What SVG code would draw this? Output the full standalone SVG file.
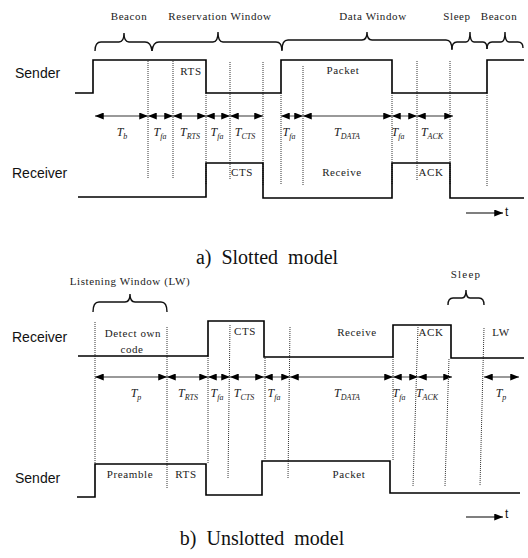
<svg xmlns="http://www.w3.org/2000/svg" width="528" height="558" viewBox="0 0 528 558">
<defs>
<style>
.lbl{font-family:"Liberation Serif",serif;font-size:11px;letter-spacing:0.6px;fill:#222;text-anchor:middle}
.row{font-family:"Liberation Sans",Arial,sans-serif;font-size:14px;fill:#111}
.cap{font-family:"Liberation Serif",serif;font-size:20px;fill:#111;text-anchor:middle}
.tl{font-family:"Liberation Serif",serif;font-style:italic;font-size:12px;fill:#222;text-anchor:middle}
.sub{font-size:8px}
.sig{fill:none;stroke:#000;stroke-width:1.6}
.brace{fill:none;stroke:#111;stroke-width:1.4}
.dot{stroke:#333;stroke-width:1;stroke-dasharray:1 1;fill:none}
.arr{stroke:#777;stroke-width:1.3;fill:none;marker-start:url(#ah);marker-end:url(#ah)}
.tarr{stroke:#000;stroke-width:1.2;fill:none;marker-end:url(#ah)}
.t{font-family:"Liberation Sans",Arial,sans-serif;font-size:12px;fill:#111}
</style>
<marker id="ah" viewBox="0 0 10 8" refX="10" refY="4" markerWidth="9" markerHeight="7" markerUnits="userSpaceOnUse" orient="auto-start-reverse">
<path d="M0,0 L10,4 L0,8 Z" fill="#000"/>
</marker>
</defs>
<rect width="528" height="558" fill="#fff"/>

<g id="slotted-braces">
<path class="brace" d="M95,51 Q95,42 101,42 L119,42 Q124,42 124,33 Q124,42 129,42 L145,42 Q151,42 152,51"/>
<path class="brace" d="M152,51 Q153,42 159,42 L213,42 Q218,42 218,32 Q218,42 223,42 L276,42 Q282,42 282,51"/>
<path class="brace" d="M282,50 Q282,40 288,40 L362,40 Q367,40 367,32 Q367,40 372,40 L446,40 Q452,40 452,50"/>
<path class="brace" d="M452,49 Q452,42 457,42 L466,42 Q470,42 470,32 Q470,42 474,42 L483,42 Q487,42 487,49"/>
<path class="brace" d="M487,49 Q487,42 492,42 L501,42 Q505,42 505,32 Q505,42 509,42 L518,42 Q523,42 523,48"/>
</g>
<g id="slotted-window-labels">
<text class="lbl" x="129" y="20">Beacon</text>
<text class="lbl" x="220" y="20">Reservation Window</text>
<text class="lbl" x="373" y="20">Data Window</text>
<text class="lbl" x="457" y="20">Sleep</text>
<text class="lbl" x="499" y="20">Beacon</text>
</g>

<g id="slotted-dotted">
<line class="dot" x1="148" y1="61" x2="148" y2="178"/>
<line class="dot" x1="173" y1="61" x2="173" y2="178"/>
<line class="dot" x1="206" y1="93" x2="206" y2="185"/>
<line class="dot" x1="230" y1="62" x2="230" y2="180"/>
<line class="dot" x1="263" y1="62" x2="263" y2="185"/>
<line class="dot" x1="281" y1="93" x2="281" y2="185"/>
<line class="dot" x1="303" y1="66" x2="303" y2="185"/>
<line class="dot" x1="392" y1="93" x2="392" y2="185"/>
<line class="dot" x1="417" y1="61" x2="417" y2="180"/>
<line class="dot" x1="450" y1="61" x2="450" y2="185"/>
<line class="dot" x1="487" y1="93" x2="487" y2="187"/>
</g>

<g id="slotted-sender">
<text class="row" x="15" y="78">Sender</text>
<path class="sig" d="M75,93 H93 V60 H206 V93 H281 V60 H392 V93 H487 V60 H524"/>
<text class="lbl" x="191" y="75">RTS</text>
<text class="lbl" x="343" y="74">Packet</text>
</g>

<g id="slotted-receiver">
<text class="row" x="12" y="178">Receiver</text>
<path class="sig" d="M78,197 H206 V163 H263 V198 H392 V163 H450 V198 H524"/>
<text class="lbl" x="242" y="176">CTS</text>
<text class="lbl" x="342" y="176">Receive</text>
<text class="lbl" x="431" y="176">ACK</text>
</g>

<g id="connectors">
<line class="arr" x1="95" y1="116" x2="148" y2="116"/>
<line class="arr" x1="148" y1="116" x2="173" y2="116"/>
<line class="arr" x1="173" y1="116" x2="206" y2="116"/>
<line class="arr" x1="206" y1="116" x2="230" y2="116"/>
<line class="arr" x1="230" y1="116" x2="263" y2="116"/>
<line class="arr" x1="281" y1="116" x2="303" y2="116"/>
<line class="arr" x1="303" y1="116" x2="392" y2="116"/>
<line class="arr" x1="392" y1="116" x2="417" y2="116"/>
<line class="arr" x1="417" y1="116" x2="453" y2="116"/>
<line class="tarr" x1="466" y1="213" x2="503" y2="213"/>

<line class="arr" x1="95" y1="377" x2="167" y2="377"/>
<line class="arr" x1="167" y1="377" x2="208" y2="377"/>
<line class="arr" x1="208" y1="377" x2="230" y2="377"/>
<line class="arr" x1="230" y1="377" x2="264" y2="377"/>
<line class="arr" x1="264" y1="377" x2="290" y2="377"/>
<line class="arr" x1="290" y1="377" x2="393" y2="377"/>
<line class="arr" x1="393" y1="377" x2="418" y2="377"/>
<line class="arr" x1="418" y1="377" x2="452" y2="377"/>
<line class="arr" x1="484" y1="377" x2="519" y2="377"/>
<line class="tarr" x1="466" y1="517" x2="503" y2="517"/>
</g>

<g id="slotted-durations">
<text class="tl" x="122" y="136">T<tspan class="sub" dy="3">b</tspan></text>
<text class="tl" x="160" y="136">T<tspan class="sub" dy="3">fa</tspan></text>
<text class="tl" x="190" y="136">T<tspan class="sub" dy="3">RTS</tspan></text>
<text class="tl" x="217" y="136">T<tspan class="sub" dy="3">fa</tspan></text>
<text class="tl" x="245" y="136">T<tspan class="sub" dy="3">CTS</tspan></text>
<text class="tl" x="289" y="136">T<tspan class="sub" dy="3">fa</tspan></text>
<text class="tl" x="347" y="136">T<tspan class="sub" dy="3">DATA</tspan></text>
<text class="tl" x="398" y="136">T<tspan class="sub" dy="3">fa</tspan></text>
<text class="tl" x="432" y="136">T<tspan class="sub" dy="3">ACK</tspan></text>
</g>

<g id="slotted-axis">
<text class="t" x="505" y="216">t</text>
<text class="cap" x="267" y="264" xml:space="preserve">a)  Slotted  model</text>
</g>

<g id="unslotted-braces">
<text class="lbl" x="130" y="285">Listening Window (LW)</text>
<path class="brace" d="M93,312 Q93,302 99,302 L125,302 Q130,302 130,294 Q130,302 135,302 L161,302 Q167,302 167,312"/>
<text class="lbl" x="466" y="278" style="letter-spacing:1.2px">Sleep</text>
<path class="brace" d="M448,305 Q448,298 453,298 L462,298 Q466,298 466,290 Q466,298 470,298 L479,298 Q484,298 484,305"/>
</g>

<g id="unslotted-dotted">
<line class="dot" x1="95" y1="322" x2="95" y2="464"/>
<line class="dot" x1="167" y1="327" x2="167" y2="488"/>
<line class="dot" x1="208" y1="356" x2="208" y2="464"/>
<line class="dot" x1="230" y1="325" x2="228" y2="478"/>
<line class="dot" x1="265" y1="358" x2="265" y2="460"/>
<line class="dot" x1="290" y1="327" x2="288" y2="478"/>
<line class="dot" x1="393" y1="357" x2="393" y2="460"/>
<line class="dot" x1="418" y1="327" x2="413" y2="486"/>
<line class="dot" x1="449" y1="359" x2="445" y2="486"/>
<line class="dot" x1="484" y1="328" x2="480" y2="486"/>
</g>

<g id="unslotted-receiver">
<text class="row" x="12" y="342">Receiver</text>
<path class="sig" d="M78,356 H208 V321 H264 V357 H393 V325 H451 V358 H524"/>
<text class="lbl" x="133" y="337">Detect own</text>
<text class="lbl" x="132" y="353">code</text>
<text class="lbl" x="245" y="335">CTS</text>
<text class="lbl" x="357" y="336">Receive</text>
<text class="lbl" x="431" y="336">ACK</text>
<text class="lbl" x="501" y="336">LW</text>
</g>

<g id="unslotted-durations">
<text class="tl" x="136" y="397">T<tspan class="sub" dy="3">p</tspan></text>
<text class="tl" x="188" y="397">T<tspan class="sub" dy="3">RTS</tspan></text>
<text class="tl" x="217" y="397">T<tspan class="sub" dy="3">fa</tspan></text>
<text class="tl" x="244" y="397">T<tspan class="sub" dy="3">CTS</tspan></text>
<text class="tl" x="274" y="397">T<tspan class="sub" dy="3">fa</tspan></text>
<text class="tl" x="347" y="397">T<tspan class="sub" dy="3">DATA</tspan></text>
<text class="tl" x="399" y="397">T<tspan class="sub" dy="3">fa</tspan></text>
<text class="tl" x="427" y="397">T<tspan class="sub" dy="3">ACK</tspan></text>
<text class="tl" x="501" y="397">T<tspan class="sub" dy="3">p</tspan></text>
</g>

<g id="unslotted-sender">
<text class="row" x="15" y="483">Sender</text>
<path class="sig" d="M77,497 H95 V464 H206 V495 H262 V461 H390 V493 H520"/>
<text class="lbl" x="130" y="478">Preamble</text>
<text class="lbl" x="186" y="478">RTS</text>
<text class="lbl" x="349" y="478">Packet</text>
</g>

<g id="unslotted-axis">
<text class="t" x="505" y="518">t</text>
<text class="cap" x="262" y="545" xml:space="preserve">b)  Unslotted  model</text>
</g>
</svg>
